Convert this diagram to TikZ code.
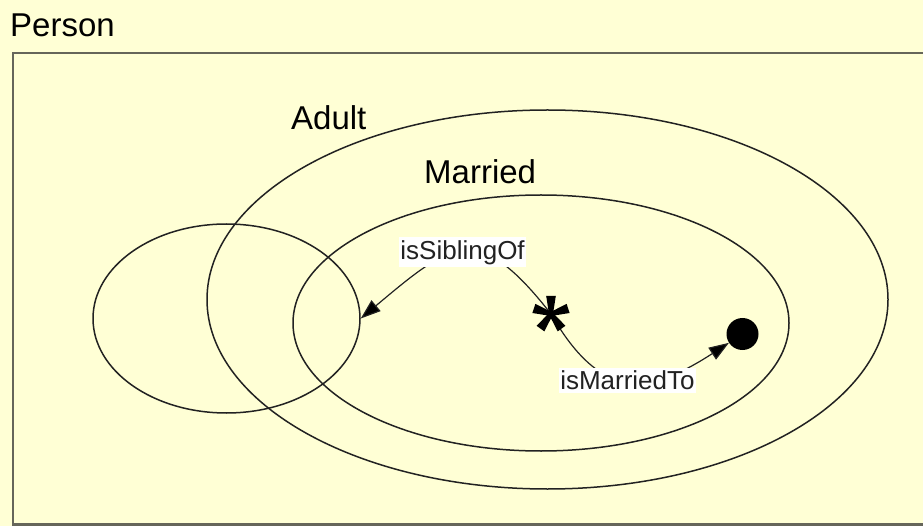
\documentclass[tikz,border=0pt]{standalone}
\usepackage{fontspec}
\setmainfont{Liberation Sans}
\usetikzlibrary{shapes.geometric,arrows.meta,calc}
\definecolor{paper}{HTML}{FFFFD5}
\definecolor{frame}{HTML}{66665A}
\definecolor{ink}{HTML}{222222}

\tikzset{
  setlabel/.style={font=\fontsize{33}{38}\selectfont, inner sep=0pt, anchor=base west},
  ring/.style={ellipse, draw=ink, line width=1.5pt, inner sep=0pt},
  relation/.style={draw=ink, line width=1.2pt, -{Triangle[length=20pt,width=14pt,fill=black]}},
  tag/.style={fill=white, text=ink, font=\fontsize{26}{30}\selectfont, inner xsep=1pt, inner ysep=3pt},
}

\begin{document}
\begin{tikzpicture}[x=1pt,y=-1pt]
  \useasboundingbox (0,0) rectangle (923,526);
  \fill[paper] (0,0) rectangle (923,526);

  % outer class frame, open to the right
  \begin{scope}
    \clip (0,0) rectangle (923,526);
    \draw[frame, line width=2.5pt] (13,53) rectangle (980,524.5);
  \end{scope}

  % class names
  \node[setlabel] (person)  at (10,37)  {Person};
  \node[setlabel] (adultname)   at (291,130) {Adult};
  \node[setlabel] (marriedname) at (424,184) {Married};

  % class extents
  \node[ring, minimum width=681pt, minimum height=379pt] (adult)   at (547.5,299.5) {};
  \node[ring, minimum width=496pt, minimum height=256pt] (married) at (541,323) {};
  \node[ring, minimum width=267pt, minimum height=189pt] (sibling) at (226.5,318.5) {};

  % individuals
  \coordinate (star) at (551,314);
  \node[circle, fill=black, minimum size=32pt, inner sep=0pt] (dot) at (742.5,334) {};

  % relations
  \draw[relation] (star) to[out=128, in=40, looseness=1.6]
      node[tag, pos=0.5] {isSiblingOf} (sibling.east);
  \draw[relation] (star) to[out=-60, in=213, looseness=1.4]
      node[tag, pos=0.5] {isMarriedTo} (dot);

  % five-petal asterisk marking the individual
  \foreach \a in {90,18,162,-54,234}
    \fill[black] ($(star)+(\a+90:2pt)$) -- ($(star)+(\a:18pt)+(\a+90:4.8pt)$)
      -- ($(star)+(\a:18pt)+(\a-90:4.8pt)$) -- ($(star)+(\a-90:2pt)$) -- cycle;
  \fill[black] (star) circle (3.5pt);
\end{tikzpicture}
\end{document}
